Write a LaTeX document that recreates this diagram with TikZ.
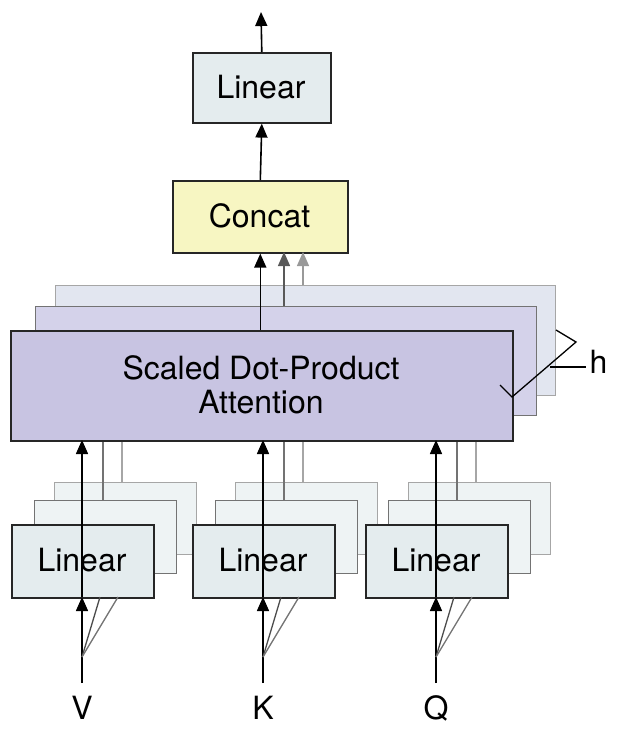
\documentclass[tikz,border=0pt]{standalone}
\usepackage{fontspec}
\setmainfont{TeX Gyre Heros}
\usetikzlibrary{arrows.meta}
\definecolor{lin}{HTML}{E4ECEE}
\definecolor{linb}{HTML}{EEF3F4}
\definecolor{att}{HTML}{C8C4E2}
\definecolor{attb}{HTML}{D4D2EA}
\definecolor{attc}{HTML}{E2E6F0}
\definecolor{cc}{HTML}{F7F6C2}
\begin{document}
\begin{tikzpicture}[x=1pt,y=-1pt,
  box/.style={draw=black!85,line width=1.6pt,rectangle,inner sep=0pt,anchor=north west},
  bk1/.style={draw=black!55,line width=1.3pt,fill=#1,rectangle,inner sep=0pt,anchor=north west},
  bk2/.style={draw=black!35,line width=1.3pt,fill=#1,rectangle,inner sep=0pt,anchor=north west},
  txt/.style={font=\fontsize{32}{38}\selectfont},
  ar/.style={line width=1.6pt,-{Triangle[length=14,width=12]}},
  ln/.style={line width=1.3pt}]
\useasboundingbox (0,0) rectangle (619,740);
% top linear and concat
\node[box,fill=lin,minimum width=138,minimum height=70,txt] (lt) at (192,52) {};
\node[txt] at (261,87) {Linear};
\node[box,fill=cc,minimum width=175,minimum height=72] (cc) at (172,180) {};
\node[txt] at (259.5,216) {Concat};
\coordinate (top) at (261,12);
\draw[ar] (lt.north) -- (top);
\draw[ar] (cc.north) -- (lt.south);
% attention layers
\node[bk2=attc,minimum width=500,minimum height=110] (a3) at (55,285) {};
\node[bk1=attb,minimum width=501,minimum height=109] (a2) at (35,306) {};
\draw[ln,black!40,-{Triangle[length=14,width=12]}] (303,285) -- (303,252);
\draw[ln,black!65,-{Triangle[length=14,width=12]}] (284,306) -- (284,252);
% linear layers
\foreach \n/\x in {v/11,k/192,q/365}{
  \node[bk2=linb,minimum width=142,minimum height=72] (\n3) at (\x+43,482) {};
  \node[bk1=linb,minimum width=142,minimum height=73] (\n2) at (\x+23,500) {};
  \draw[ln,black!35] (\x+111,482) -- (\x+111,440);
  \draw[ln,black!55] (\x+92,500) -- (\x+92,440);
}
\node[box,fill=att,minimum width=502,minimum height=110] (a1) at (10,330) {};
\node[txt,align=center] at (261,385) {Scaled Dot-Product\\[-4pt]Attention};
\draw[ar] (a1.north -| cc.south) -- (cc.south);
% h bracket
\draw[line width=1.3pt] (500,385) -- (512,397) -- (576,342) -- (556,330);
\draw[line width=1.3pt] (550,367) -- (586,367);
\node[txt,anchor=west] (h) at (586,362) {h};
% front linears and inputs
\foreach \n/\x/\l in {v/11/V,k/192/K,q/365/Q}{
  \node[box,fill=lin,minimum width=142,minimum height=73] (\n1) at (\x,524) {};
  \node[txt] at (\x+71,560) {Linear};
  \draw[ar] (\x+71,597) -- (\x+71,440);
  \coordinate (\n in) at (\x+71,683);
  \draw[ar] (\n in) -- (\x+71,597);
  \draw[ln,black!70] (\x+71,657) -- (\x+89,597);
  \draw[ln,black!55] (\x+71,657) -- (\x+107,597);
  \node[txt] (\n lab) at (\x+71,708) {\l};
}
\end{tikzpicture}
\end{document}
